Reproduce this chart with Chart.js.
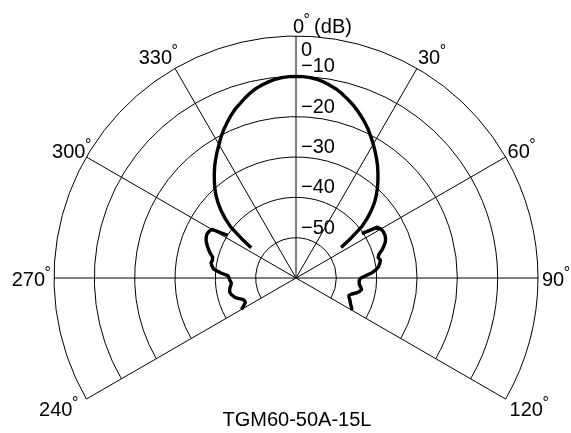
<!DOCTYPE html>
<html>
<head>
<meta charset="utf-8">
<script src="https://cdn.jsdelivr.net/npm/chart.js@4.4.1/dist/chart.umd.min.js"></script>
<style>
  html, body { margin: 0; padding: 0; background: #fff; overflow: hidden; }
  #wrap { width: 571px; height: 433px; overflow: hidden; }
</style>
</head>
<body>
<div id="wrap"><canvas id="chart" width="571" height="556"></canvas></div>
<script>
// angle categories, every 2 degrees, 0 at the top, clockwise
const angleLabels = Array.from({ length: 180 }, (_, i) => i * 2);

// main lobe (dB)
const mainLobeAngles = [
  304, 306, 308, 310, 312, 314, 316, 318, 320, 322, 324, 326, 328, 330,
  332, 334, 336, 338, 340, 342, 344, 346, 348, 350, 352, 354, 356, 358,
  0, 2, 4, 6, 8, 10, 12, 14, 16, 18, 20, 22, 24, 26, 28,
  30, 32, 34, 36, 38, 40, 42, 44, 46, 48, 50, 52, 54, 56
];
const mainLobeDb = [
  -46.6, -43.2, -39.5, -37.1, -35.0, -33.1, -31.4, -29.9, -28.5, -27.1, -25.7, -24.4, -23.1, -21.8,
  -20.4, -19.1, -17.9, -16.7, -15.6, -14.7, -13.7, -12.8, -12.0, -11.4, -10.9, -10.45, -10.2, -10.05,
  -10.0, -10.05, -10.2, -10.45, -10.9, -11.5, -12.1, -12.9, -13.8, -14.7, -15.7, -16.8, -17.9, -19.1, -20.4,
  -21.7, -23.0, -24.3, -25.6, -27.0, -28.4, -29.8, -31.3, -32.9, -34.8, -36.9, -39.3, -43.0, -46.5
];

// right side lobe (dB)
const rightLobeAngles = [
  56, 58, 60, 62, 64, 66, 68, 70, 72, 74, 76, 78, 80, 82, 84, 86, 88,
  90, 92, 94, 96, 98, 100, 102, 104, 106, 108, 110, 112, 114, 116, 118, 120
];
const rightLobeDb = [
  -40.3, -36.2, -35.7, -35.5, -35.5, -35.7, -36.1, -36.8, -37.6, -38.6, -39.0, -38.6, -38.9, -39.3, -40.0, -41.1, -42.6,
  -43.9, -44.3, -44.3, -44.2, -43.8, -43.5, -43.9, -44.6, -45.6, -46.2, -46.0, -45.6, -45.3, -44.9, -44.4, -44.0
];

// left side lobe (dB)
const leftLobeAngles = [
  240, 242, 244, 246, 248, 250, 252, 254, 256, 258, 260, 262, 264, 266, 268, 270,
  272, 274, 276, 278, 280, 282, 284, 286, 288, 290, 292, 294, 296, 298, 300, 302
];
const leftLobeDb = [
  -44.4, -45.3, -46.0, -46.1, -45.8, -45.0, -44.2, -43.8, -43.4, -43.2, -43.3, -43.5, -43.8, -43.9, -43.6, -43.4,
  -43.1, -41.2, -39.5, -39.0, -38.6, -38.8, -38.7, -37.9, -37.2, -36.6, -36.0, -35.6, -35.4, -35.5, -35.9, -40.0
];

// rings and spokes
const ringValues = [0, -10, -20, -30, -40, -50];
const ringLabels = ['0', '−10', '−20', '−30', '−40', '−50'];
const spokeAngles = [240, 270, 300, 330, 0, 30, 60, 90, 120];
const spokeLabels = ['240', '270', '300', '330', '0', '30', '60', '90', '120'];
const modelName = 'TGM60-50A-15L';

function toSeries(angles, values) {
  const out = angleLabels.map(() => null);
  angles.forEach((a, i) => { out[angleLabels.indexOf(a)] = values[i]; });
  return out;
}

const FONT = '"Liberation Sans", Arial, sans-serif';

// label placement next to each spoke end: [align, dx, dy to baseline]
const spokeLabelPos = {
  240: ['right', -14, 17], 270: ['right', -9, 8], 300: ['right', -1, 1], 330: ['right', -3, -4],
  30: ['left', 1, -4], 60: ['left', 2, 1], 90: ['left', 4, 8], 120: ['left', 4, 17]
};

function drawDeg(ctx, x, y) {
  ctx.font = '16px ' + FONT;
  ctx.textAlign = 'left';
  ctx.fillText('°', x - 0.5, y - 8);
}

const polarGrid = {
  id: 'polarGrid',
  beforeDatasetsDraw(chart) {
    const scale = chart.scales.r;
    const ctx = chart.ctx;
    const cx = scale.xCenter, cy = scale.yCenter;
    const idx = deg => angleLabels.indexOf(deg);
    const start = scale.getIndexAngle(idx(240)) - Math.PI / 2;
    const end = scale.getIndexAngle(idx(120)) - Math.PI / 2;

    ctx.save();
    ctx.strokeStyle = '#000';
    ctx.lineWidth = 1;
    ringValues.forEach(v => {
      const r = scale.getDistanceFromCenterForValue(v);
      ctx.beginPath();
      ctx.arc(cx, cy, r, start, end);
      ctx.stroke();
    });
    spokeAngles.forEach(a => {
      const p = scale.getPointPosition(idx(a), scale.drawingArea);
      ctx.beginPath();
      ctx.moveTo(cx, cy);
      ctx.lineTo(p.x, p.y);
      ctx.stroke();
    });
    ctx.restore();
  },
  afterDatasetsDraw(chart) {
    const scale = chart.scales.r;
    const ctx = chart.ctx;
    const cx = scale.xCenter, cy = scale.yCenter;
    ctx.save();
    ctx.fillStyle = '#000';
    ctx.textBaseline = 'alphabetic';

    // dB tick labels along the 0 deg spoke
    ringValues.forEach((v, i) => {
      const y = cy - scale.getDistanceFromCenterForValue(v);
      ctx.font = '20px ' + FONT;
      ctx.textAlign = 'left';
      ctx.fillText(ringLabels[i], cx + 5, v === 0 ? y + 20 : y - 4);
    });

    // angle labels
    spokeAngles.forEach((a, i) => {
      const p = scale.getPointPosition(angleLabels.indexOf(a), scale.drawingArea);
      ctx.font = '20px ' + FONT;
      if (a === 0) {
        const x = cx - 3, y = p.y - 3;
        ctx.textAlign = 'left';
        ctx.fillText(spokeLabels[i], x, y);
        const w = ctx.measureText(spokeLabels[i]).width;
        drawDeg(ctx, x + w, y);
        ctx.font = '20px ' + FONT;
        ctx.fillText('(dB)', x + w + 10, y);
        return;
      }
      const [align, dx, dy] = spokeLabelPos[a];
      const w = ctx.measureText(spokeLabels[i]).width;
      const x0 = align === 'left' ? p.x + dx : p.x + dx - w;
      ctx.textAlign = 'left';
      ctx.fillText(spokeLabels[i], x0, p.y + dy);
      drawDeg(ctx, x0 + w, p.y + dy);
    });

    ctx.font = '20px ' + FONT;
    ctx.textAlign = 'center';
    ctx.fillText(modelName, cx + 1, 426);
    ctx.restore();
  }
};

const lineStyle = {
  borderColor: '#000',
  borderWidth: 3.4,
  pointRadius: 0,
  fill: false,
  tension: 0,
  spanGaps: false,
  borderJoinStyle: 'round'
};

new Chart(document.getElementById('chart'), {
  type: 'radar',
  data: {
    labels: angleLabels,
    datasets: [
      Object.assign({ label: 'main', data: toSeries(mainLobeAngles, mainLobeDb) }, lineStyle),
      Object.assign({ label: 'right', data: toSeries(rightLobeAngles, rightLobeDb) }, lineStyle),
      Object.assign({ label: 'left', data: toSeries(leftLobeAngles, leftLobeDb) }, lineStyle)
    ]
  },
  options: {
    responsive: false,
    animation: false,
    layout: { padding: { left: 54, right: 33, top: 36, bottom: 36 } },
    plugins: { legend: { display: false }, tooltip: { enabled: false } },
    scales: {
      r: {
        min: -60,
        max: 0,
        startAngle: 0,
        ticks: { display: false, stepSize: 10 },
        grid: { display: false },
        angleLines: { display: false },
        pointLabels: { display: false }
      }
    }
  },
  plugins: [polarGrid]
});
</script>
</body>
</html>
